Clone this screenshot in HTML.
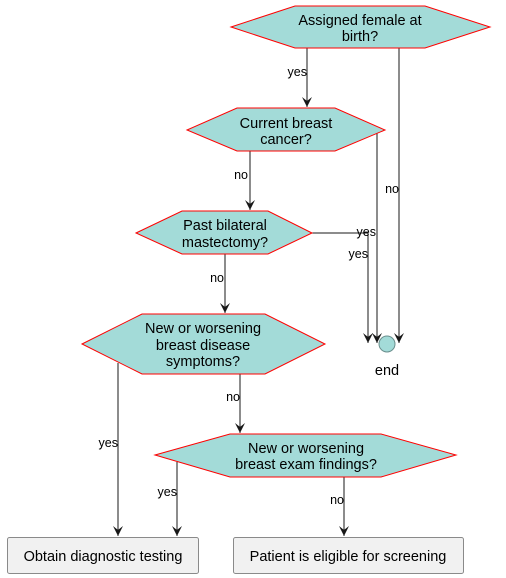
<!DOCTYPE html>
<html><head><style>html,body{margin:0;padding:0;background:#fff}svg{display:block}</style></head><body>
<svg width="506" height="578" viewBox="0 0 506 578" xmlns="http://www.w3.org/2000/svg" font-family="'Liberation Sans', sans-serif">
<defs><marker id="a" viewBox="0 0 10 10" refX="10" refY="5" markerWidth="10" markerHeight="10" markerUnits="userSpaceOnUse" orient="auto"><path d="M0,0 L10,5 L0,10 L4,5 Z" fill="#181818"/></marker></defs>
<g stroke="#181818" stroke-width="1" fill="none">
<path d="M307,48 V107" marker-end="url(#a)"/>
<path d="M399,48 V343" marker-end="url(#a)"/>
<path d="M377,133 V343" marker-end="url(#a)"/>
<path d="M250,151 V210" marker-end="url(#a)"/>
<path d="M312,233 H368 V343" marker-end="url(#a)"/>
<path d="M225,254 V313" marker-end="url(#a)"/>
<path d="M118,363 V536" marker-end="url(#a)"/>
<path d="M240,374 V433" marker-end="url(#a)"/>
<path d="M177,462 V536" marker-end="url(#a)"/>
<path d="M344,477 V536" marker-end="url(#a)"/>
</g>
<g fill="#a3dbd8" stroke="#f00" stroke-width="1">
<polygon points="231,27 295,6 425,6 490,27 425,48 295,48"/>
<polygon points="187,130 237,108 335,108 385,130 335,151 237,151"/>
<polygon points="136,233 182,211 268,211 312,233 268,254 182,254"/>
<polygon points="82,344 142,314 265,314 325,344 265,374 142,374"/>
<polygon points="155,455 230,434 381,434 456,455 381,477 230,477"/>
</g>
<circle cx="387" cy="344" r="8" fill="#a3dbd8" stroke="#6a8f8d"/>
<g fill="#f1f1f1" stroke="#8a8a8a"><rect x="7.5" y="537.5" width="191" height="36" rx="2"/><rect x="233.5" y="537.5" width="230" height="36" rx="2"/></g>
<g font-size="14.5" fill="#000" text-anchor="middle">
<text x="360" y="25">Assigned female at</text><text x="360" y="41">birth?</text>
<text x="286" y="128">Current breast</text><text x="286" y="144">cancer?</text>
<text x="225" y="230">Past bilateral</text><text x="225" y="247">mastectomy?</text>
<text x="203" y="333">New or worsening</text><text x="203" y="350">breast disease</text><text x="203" y="366">symptoms?</text>
<text x="306" y="453">New or worsening</text><text x="306" y="469">breast exam findings?</text>
<text x="387" y="375">end</text>
<text x="103" y="561">Obtain diagnostic testing</text>
<text x="348" y="561">Patient is eligible for screening</text>
</g>
<g font-size="12.5" fill="#000" text-anchor="end">
<text x="307" y="76">yes</text>
<text x="248" y="179">no</text>
<text x="399" y="193">no</text>
<text x="376" y="236">yes</text>
<text x="368" y="258">yes</text>
<text x="224" y="282">no</text>
<text x="240" y="401">no</text>
<text x="118" y="447">yes</text>
<text x="177" y="496">yes</text>
<text x="344" y="504">no</text>
</g>
</svg>
</body></html>
